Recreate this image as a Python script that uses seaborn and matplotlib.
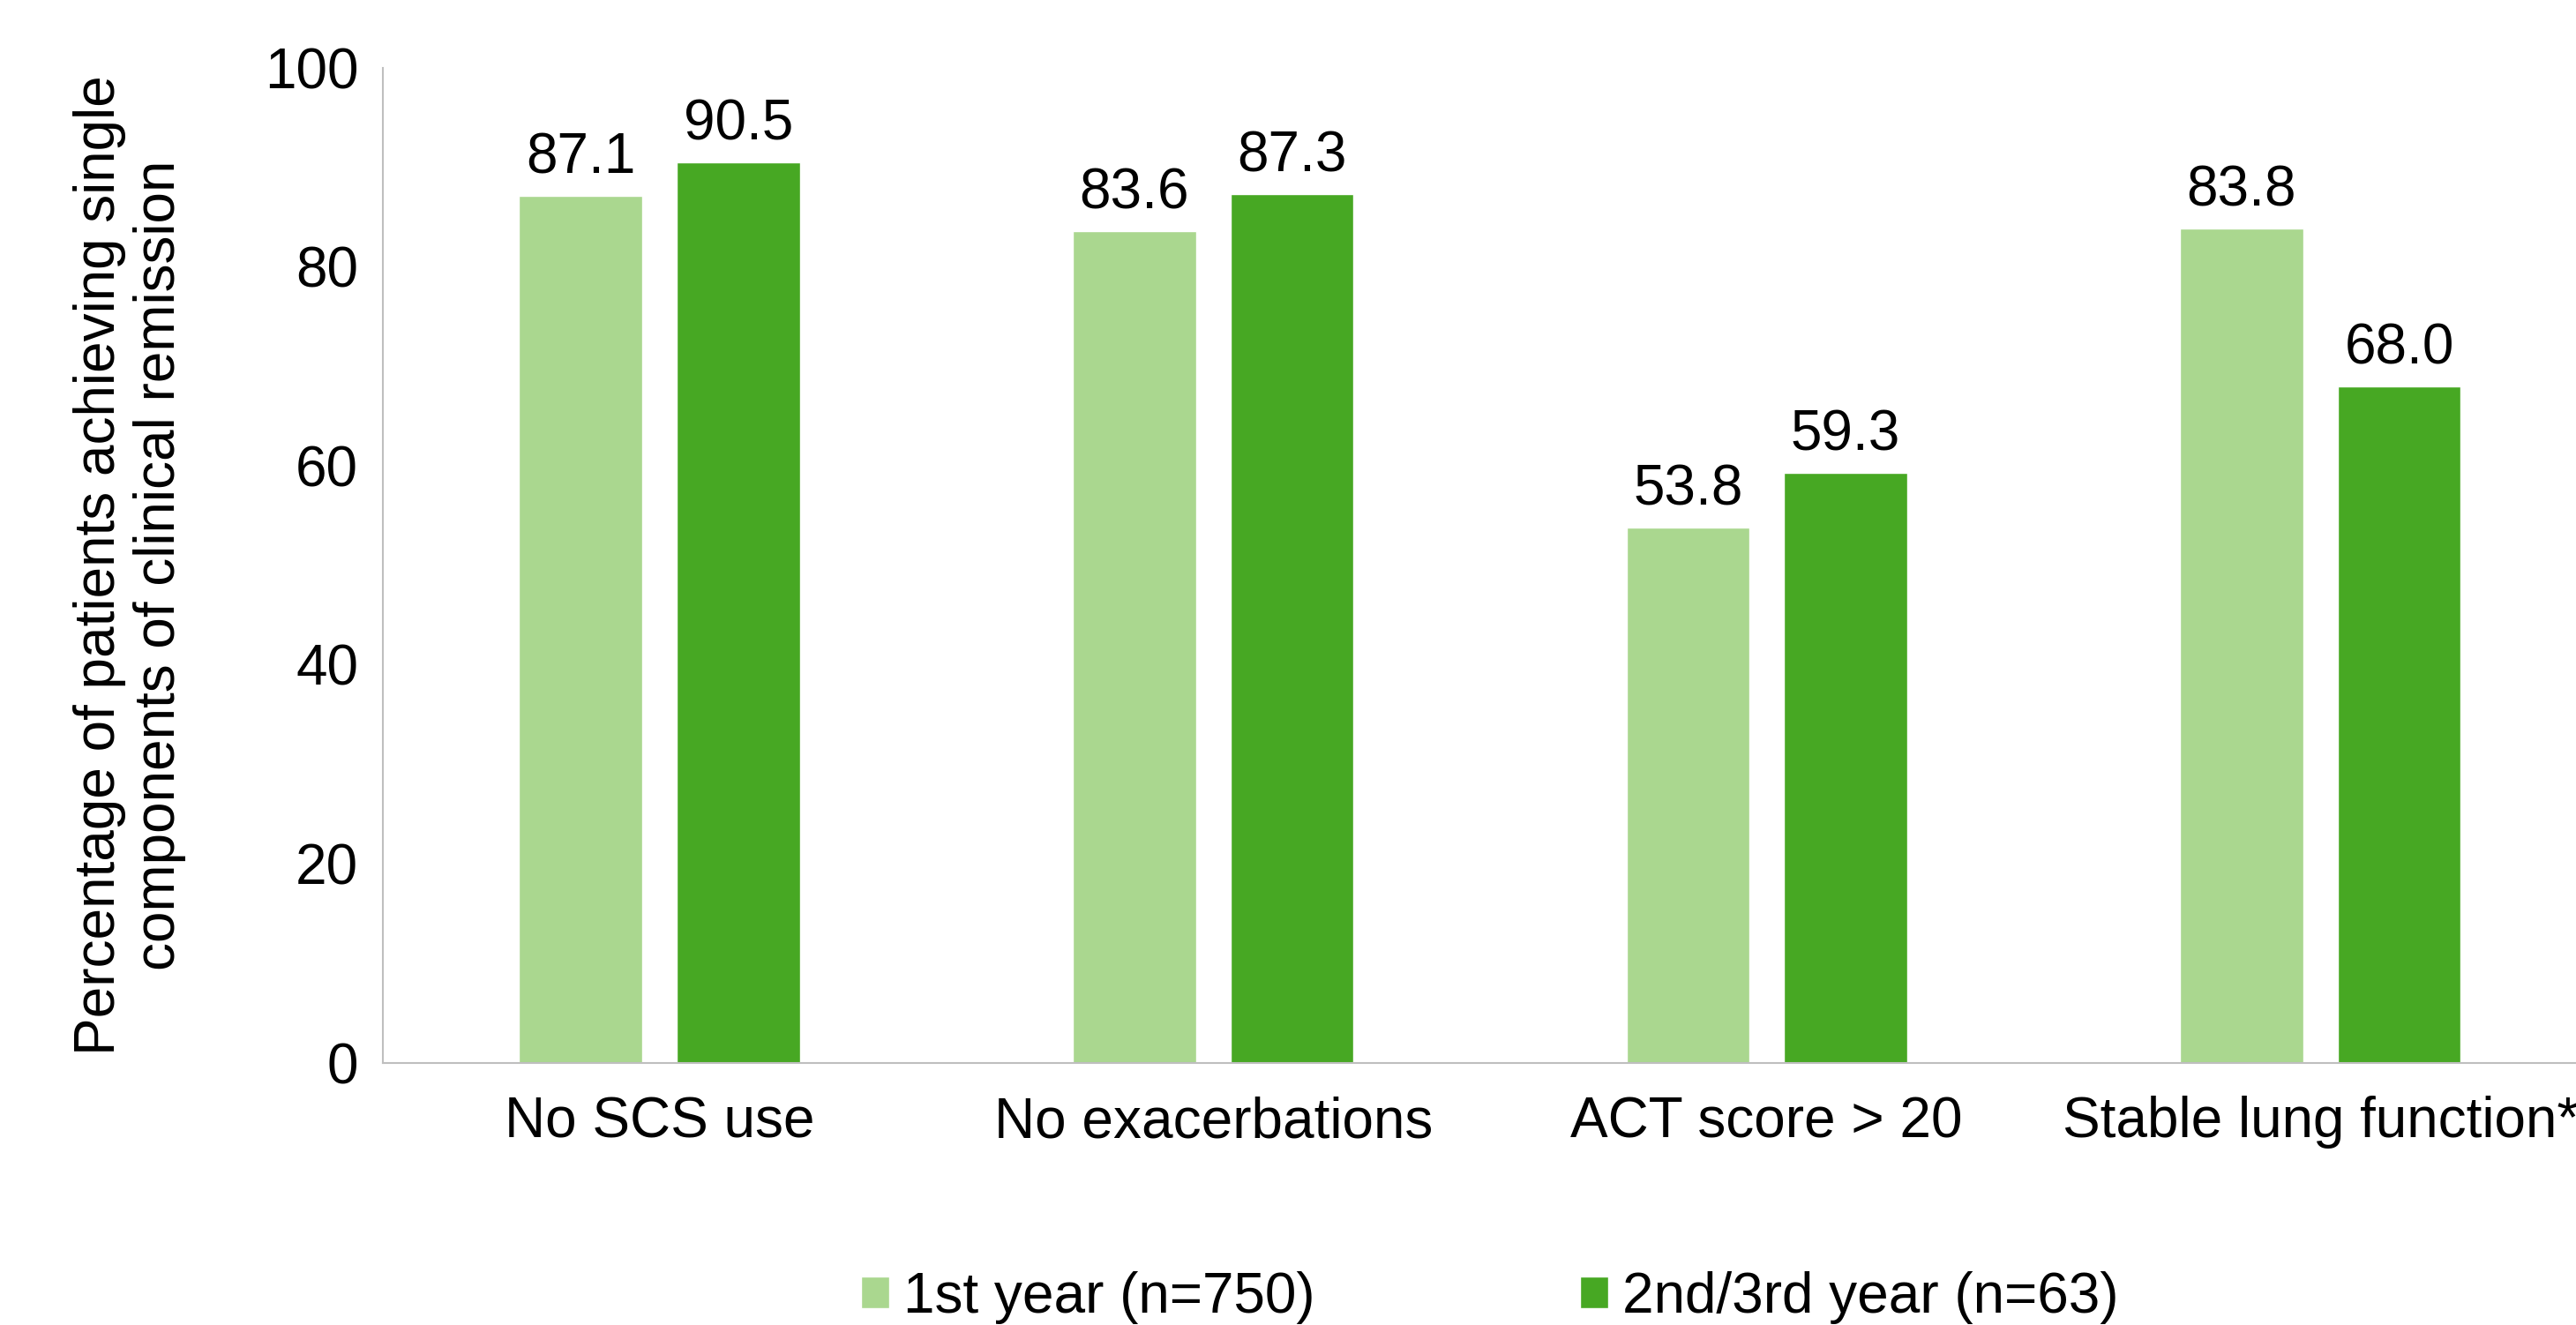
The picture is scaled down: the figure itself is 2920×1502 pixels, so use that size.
import matplotlib
matplotlib.use("Agg")
import matplotlib.pyplot as plt
import seaborn as sns
import pandas as pd

# values
components = ["No SCS use", "No exacerbations", "ACT score > 20", "Stable lung function*"]
first_year = [87.1, 83.6, 53.8, 83.8]
later_years = [90.5, 87.3, 59.3, 68.0]
periods = ["1st year (n=750)", "2nd/3rd year (n=63)"]
y_ticks = [0, 20, 40, 60, 80, 100]

light_green = "#AAD78F"
dark_green = "#47A823"
axis_grey = "#BFBFBF"
fs = 46

df = pd.DataFrame({
    "component": components * 2,
    "pct": first_year + later_years,
    "period": [periods[0]] * len(components) + [periods[1]] * len(components),
})

sns.set_theme(style="white")
plt.rcParams["font.family"] = ["Liberation Sans", "DejaVu Sans"]
plt.rcParams.update({
    "text.color": "black",
    "axes.labelcolor": "black",
    "xtick.color": "black",
    "ytick.color": "black",
})

fig = plt.figure(figsize=(29.2, 15.02), dpi=100)
ax = fig.add_axes([0.1486, 0.198, 0.8596, 0.751])

sns.barplot(
    data=df, x="component", y="pct", hue="period",
    palette=[light_green, dark_green], width=0.57, gap=0.22,
    saturation=1, ax=ax, legend=True,
)

for cont in ax.containers:
    ax.bar_label(cont, fmt="%.1f", padding=9, fontsize=fs, color="black")

ax.set_ylim(0, 100)
ax.set_xlim(-0.5, 3.5)
ax.set_yticks(y_ticks)
ax.tick_params(axis="y", direction="in", length=13, width=1.5, color=axis_grey,
               labelcolor="black", labelsize=fs, pad=20)
ax.tick_params(axis="x", length=0, labelsize=fs, labelcolor="black", pad=27)
ax.set_xlabel("")
ax.set_ylabel("Percentage of patients achieving single\ncomponents of clinical remission",
              fontsize=fs, linespacing=1.15)
ax.yaxis.set_label_coords(-0.089, 0.5)

for side in ["top", "right"]:
    ax.spines[side].set_visible(False)
for side in ["left", "bottom"]:
    ax.spines[side].set_color(axis_grey)
    ax.spines[side].set_linewidth(1.5)

ax.legend(
    loc="center", bbox_to_anchor=(0.5, -0.236), ncol=2, frameon=False,
    fontsize=fs, handlelength=0.5, handleheight=0.5, handletextpad=0.25,
    columnspacing=4.7, borderaxespad=0, borderpad=0,
)

fig.savefig("out.png", dpi=100, facecolor="white")
